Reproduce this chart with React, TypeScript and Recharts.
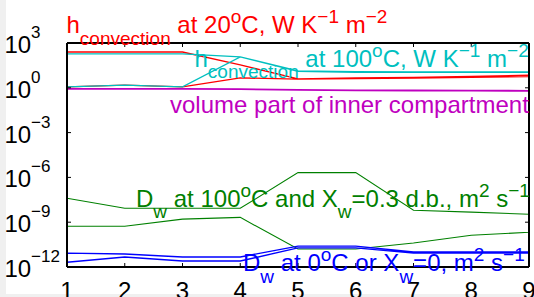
import { LineChart, Line, XAxis, YAxis } from 'recharts';

// x positions
const xs = [1, 2, 3, 4, 5, 6, 7, 8, 9];
const xTicks = [1, 2, 3, 4, 5, 6, 7, 8, 9];
const yTicks = [1e3, 1, 1e-3, 1e-6, 1e-9, 1e-12];

// h convection at 20 C (upper / lower bound)
const hConv20Upper = [250, 250, 250, 34, 4.0, 4.6, 5.0, 5.8, 7.0];
const hConv20Lower = [1.15, 1.5, 1.15, 4.6, 3.8, 4.2, 4.5, 5.0, 5.6];

// h convection at 100 C
const hConv100Upper = [185, 185, 185, 117, 13.6, 12, 11.7, 11.7, 11.7];
const hConv100Lower = [1.15, 1.5, 1.15, 117, 12.5, 11, 10.7, 10.7, 10.7];

// volume part of inner compartment
const volumePart = [0.85, 0.85, 0.85, 0.82, 0.72, 0.68, 0.66, 0.64, 0.63];

// Dw at 100 C and Xw = 0.3 d.b.
const dw100Upper = [4e-8, 8.5e-9, 8.5e-9, 8.5e-9, 2.1e-6, 2.1e-6, 6.3e-9, 4.7e-9, 3.4e-9];
const dw100Lower = [5.4e-10, 5.4e-10, 1.6e-9, 2.1e-9, 1.6e-11, 1.6e-11, 4e-11, 1.35e-10, 2.1e-10];

// Dw at 0 C or Xw = 0
const dw0Upper = [8.5e-12, 7.4e-12, 4.7e-12, 4.7e-12, 2.5e-11, 2.5e-11, 1e-11, 1e-11, 1e-11];
const dw0Lower = [2.1e-12, 4.7e-12, 2.5e-12, 2.5e-12, 1.9e-11, 1.9e-11, 8.5e-12, 8.5e-12, 8.5e-12];

// closed outline: upper left->right, lower right->left, back to start
const band = (upper: number[], lower: number[]) => {
  const pts = xs.map((x, i) => ({ x, y: upper[i] }));
  for (let i = xs.length - 1; i >= 0; i--) pts.push({ x: xs[i], y: lower[i] });
  pts.push({ x: xs[0], y: upper[0] });
  return pts;
};
const single = (vals: number[]) => xs.map((x, i) => ({ x, y: vals[i] }));

const FONT = '"Liberation Sans", Arial, Helvetica, sans-serif';
const RED = '#ff0000';
const CYAN = '#00bfbf';
const MAGENTA = '#bf00bf';
const GREEN = '#008000';
const BLUE = '#0000ff';

const PLOT_LEFT = 67;
const PLOT_RIGHT = 529;
const PLOT_TOP = 43;
const PLOT_BOTTOM = 267;

const LeftTick = (props: any) => {
  const { y, payload } = props;
  const exp = Math.round(Math.log10(payload.value));
  const e = exp < 0 ? '\u2212' + Math.abs(exp) : String(exp);
  return (
    <g>
      <line x1={PLOT_LEFT} y1={y} x2={PLOT_LEFT + 4} y2={y} stroke="#000" strokeWidth={1} />
      <text x={PLOT_LEFT - 62.6} y={y + 10} fontSize={24} fontFamily={FONT} fill="#000">
        10<tspan dy={-15} fontSize={17}>{e}</tspan>
      </text>
    </g>
  );
};

const RightTick = (props: any) => {
  const { y } = props;
  return <line x1={PLOT_RIGHT} y1={y} x2={PLOT_RIGHT - 4} y2={y} stroke="#000" strokeWidth={1} />;
};

const BottomTick = (props: any) => {
  const { x, payload } = props;
  return (
    <g>
      <line x1={x} y1={PLOT_BOTTOM} x2={x} y2={PLOT_BOTTOM - 4} stroke="#000" strokeWidth={1} />
      <text x={x} y={PLOT_BOTTOM + 32} textAnchor="middle" fontSize={24} fontFamily={FONT} fill="#000">
        {payload.value}
      </text>
    </g>
  );
};

const TopTick = (props: any) => {
  const { x } = props;
  return <line x1={x} y1={PLOT_TOP} x2={x} y2={PLOT_TOP + 4} stroke="#000" strokeWidth={1} />;
};

const Annotations = () => (
  <svg
    width={534}
    height={297}
    style={{ position: 'absolute', left: 0, top: 0, pointerEvents: 'none' }}
    fontFamily={FONT}
    fontSize={24}
  >
    <text x={66.5} y={33} fill={RED} style={{ whiteSpace: 'pre' }}>
      h<tspan dy={12} fontSize={19}>convection</tspan>
      <tspan dy={-12}> at 20</tspan>
      <tspan dy={-10} fontSize={19}>o</tspan>
      <tspan dy={10}>C, W K</tspan>
      <tspan dy={-10} fontSize={19}>{'\u22121'}</tspan>
      <tspan dy={10}> m</tspan>
      <tspan dy={-10} fontSize={19}>{'\u22122'}</tspan>
    </text>
    <text x={194.5} y={66.5} fill={CYAN} style={{ whiteSpace: 'pre' }}>
      h<tspan dy={11} fontSize={19}>convection</tspan>
      <tspan dy={-11}> at 100</tspan>
      <tspan dy={-10} fontSize={19}>o</tspan>
      <tspan dy={10}>C, W K</tspan>
      <tspan dy={-10} fontSize={19}>{'\u22121'}</tspan>
      <tspan dy={10}> m</tspan>
      <tspan dy={-10} fontSize={19}>{'\u22122'}</tspan>
    </text>
    <text x={170} y={113} fill={MAGENTA}>volume part of inner compartment</text>
    <text x={136} y={207} fill={GREEN} style={{ whiteSpace: 'pre' }}>
      D<tspan dy={11} fontSize={19}>w</tspan>
      <tspan dy={-11}> at 100</tspan>
      <tspan dy={-10} fontSize={19}>o</tspan>
      <tspan dy={10}>C and X</tspan>
      <tspan dy={11} fontSize={19}>w</tspan>
      <tspan dy={-11}>=0.3 d.b., m</tspan>
      <tspan dy={-10} fontSize={19}>2</tspan>
      <tspan dy={10}> s</tspan>
      <tspan dy={-10} fontSize={19}>{'\u22121'}</tspan>
    </text>
    <text x={243} y={271} fill={BLUE} style={{ whiteSpace: 'pre' }}>
      D<tspan dy={12} fontSize={19}>w</tspan>
      <tspan dy={-12}> at 0</tspan>
      <tspan dy={-10} fontSize={19}>o</tspan>
      <tspan dy={10}>C or X</tspan>
      <tspan dy={12} fontSize={19}>w</tspan>
      <tspan dy={-12}>=0, m</tspan>
      <tspan dy={-10} fontSize={19}>2</tspan>
      <tspan dy={10}> s</tspan>
      <tspan dy={-10} fontSize={19}>{'\u22121'}</tspan>
    </text>
  </svg>
);

export default function App() {
  return (
    <div style={{ position: 'absolute', left: 0, top: 0, width: 534, height: 297, background: '#f0f0f0', overflow: 'hidden' }}>
      <div style={{ position: 'absolute', left: 6, top: 0, width: 528, height: 294, background: '#fff' }} />
      <div style={{ position: 'absolute', left: 0, top: 0 }}>
        <LineChart width={534} height={297} margin={{ top: 33, right: 0, bottom: 20, left: 57 }}>
          <XAxis
            xAxisId="bottom"
            dataKey="x"
            type="number"
            domain={[1, 9]}
            ticks={xTicks}
            height={10}
            tickSize={0}
            tickMargin={0}
            tickLine={false}
            axisLine={{ stroke: '#000', strokeWidth: 2 }}
            tick={<BottomTick />}
            allowDataOverflow
          />
          <XAxis
            xAxisId="top"
            orientation="top"
            dataKey="x"
            type="number"
            domain={[1, 9]}
            ticks={xTicks}
            height={10}
            tickSize={0}
            tickMargin={0}
            tickLine={false}
            axisLine={{ stroke: '#000', strokeWidth: 2 }}
            tick={<TopTick />}
            allowDataOverflow
          />
          <YAxis
            yAxisId="left"
            type="number"
            scale="log"
            domain={[1e-12, 1e3]}
            ticks={yTicks}
            width={10}
            tickSize={0}
            tickMargin={0}
            tickLine={false}
            axisLine={{ stroke: '#000', strokeWidth: 2 }}
            tick={<LeftTick />}
            allowDataOverflow
          />
          <YAxis
            yAxisId="right"
            orientation="right"
            type="number"
            scale="log"
            domain={[1e-12, 1e3]}
            ticks={yTicks}
            width={5}
            tickSize={0}
            tickMargin={0}
            tickLine={false}
            axisLine={{ stroke: '#000', strokeWidth: 2 }}
            tick={<RightTick />}
            allowDataOverflow
          />
          <Line xAxisId="bottom" yAxisId="left" data={band(hConv20Upper, hConv20Lower)} dataKey="y" type="linear" stroke={RED} strokeWidth={1.3} dot={false} isAnimationActive={false} />
          <Line xAxisId="bottom" yAxisId="left" data={band(hConv100Upper, hConv100Lower)} dataKey="y" type="linear" stroke={CYAN} strokeWidth={1.3} dot={false} isAnimationActive={false} />
          <Line xAxisId="bottom" yAxisId="left" data={single(volumePart)} dataKey="y" type="linear" stroke={MAGENTA} strokeWidth={1.8} dot={false} isAnimationActive={false} />
          <Line xAxisId="bottom" yAxisId="left" data={band(dw100Upper, dw100Lower)} dataKey="y" type="linear" stroke={GREEN} strokeWidth={1.1} dot={false} isAnimationActive={false} />
          <Line xAxisId="bottom" yAxisId="left" data={band(dw0Upper, dw0Lower)} dataKey="y" type="linear" stroke={BLUE} strokeWidth={1.4} dot={false} isAnimationActive={false} />
        </LineChart>
      </div>
      <Annotations />
    </div>
  );
}
